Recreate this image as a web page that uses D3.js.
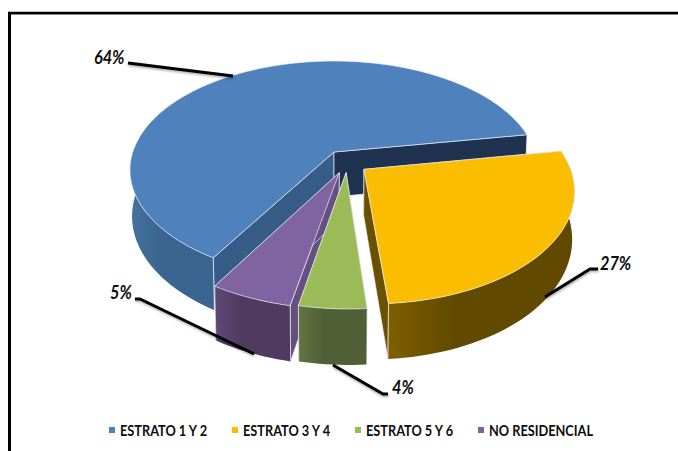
<!DOCTYPE html>
<html><head><meta charset="utf-8">
<script src="https://cdn.jsdelivr.net/npm/d3@7/dist/d3.min.js"></script>
<style>html,body{margin:0;padding:0;background:#fff}svg{display:block}text{font-family:Lato,sans-serif;fill:#0d0d0d}</style>
</head><body><svg id="c" width="678" height="451"></svg>
<script>
const categories = ["ESTRATO 1 Y 2","ESTRATO 3 Y 4","ESTRATO 5 Y 6","NO RESIDENCIAL"];
const values = [63.7,26.5,4.4,5.4];
const labels = ["64%","27%","4%","5%"];
const topColors = ["#4f81bd","#fbbd00","#9bbb59","#8064a2"];
const wallFrom = ["#44729f","#7f5f00","#627541","#5f4a78"];
const wallTo = ["#3b6591","#614a00","#505f36","#4f3a60"];
const faceColors = [["#375c87","#1f3350"],["#6b5000","#6b5000"],["#566b36","#566b36"],["#65507f","#65507f"]];
const explode = [[0,0],[0.145,0.159],[0.058,0.19],[0.025,0.19]];
const drawOrder = [0,1,3,2];
const leaders = [
 [[128,63],[233,76]],
 [[598,269],[590,269],[545,297]],
 [[388,394],[383,394],[333,365]],
 [[135,299],[140,299],[254,354]]];
const labelPos = [[94,64],[600,270],[392,394],[110,299]];
const legendX = [109,232,355,478];

const svg = d3.select("#c");
const defs = svg.append("defs");
const f = defs.append("filter").attr("id","sh").attr("x","-20%").attr("y","-50%").attr("width","140%").attr("height","220%");
f.append("feDropShadow").attr("dx",0.5).attr("dy",1.5).attr("stdDeviation",1).attr("flood-color","#000").attr("flood-opacity",0.35);

// Projection of the pie's disk (u,v) at height z to the screen
const X0=334,Y0=152,A=201.2,B=106,H=45,K=0.165;
function proj(u,v,z){const w=1-K*v;return [X0+A*u/w*(1-0.01*z),Y0+(B*v+H*z)/w];}
const line=d3.line();
const pie=d3.pie().sort(null).startAngle(3.683).endAngle(3.683+2*Math.PI);
const arcs=pie(values);

// Frame
svg.append("rect").attr("x",10).attr("y",14).attr("width",668).attr("height",1).attr("fill","#b5b5b5");
svg.append("line").attr("x1",8).attr("y1",13).attr("x2",678).attr("y2",13).attr("stroke","#000").attr("stroke-width",2.4);
svg.append("line").attr("x1",9.5).attr("y1",12).attr("x2",9.5).attr("y2",451).attr("stroke","#000").attr("stroke-width",3);

const edge="rgba(235,240,248,0.85)";
drawOrder.forEach(i=>{
  const a=arcs[i],[du,dv]=explode[i];
  const pt=(t,z)=>{const th=t-Math.PI/2;return proj(du+Math.cos(th),dv+Math.sin(th),z);};
  const n=Math.ceil((a.endAngle-a.startAngle)*90/Math.PI)+2;
  const ts=d3.range(n+1).map(k=>a.startAngle+(a.endAngle-a.startAngle)*k/n);
  const top=ts.map(t=>pt(t,0));
  // the outer wall is only the part of the rim that faces the viewer
  const front=ts.filter(t=>Math.sin(t-Math.PI/2)>-0.05);
  const wallTop=front.map(t=>pt(t,0)), wallBot=front.map(t=>pt(t,1)).reverse();
  const ap0=proj(du,dv,0), ap1=proj(du,dv,1);
  const id="w"+i;
  const xs=wallTop.concat(wallBot).map(p=>p[0]);
  const g=defs.append("linearGradient").attr("id",id).attr("gradientUnits","userSpaceOnUse")
    .attr("x1",d3.min(xs)).attr("x2",d3.max(xs)).attr("y1",0).attr("y2",0);
  g.append("stop").attr("offset",0).attr("stop-color",wallFrom[i]);
  g.append("stop").attr("offset",0.35).attr("stop-color",wallTo[i]);
  g.append("stop").attr("offset",1).attr("stop-color",wallTo[i]);
  const G=svg.append("g");
  const poly=(pts,fill,st)=>G.append("path").attr("d",line(pts)+"Z").attr("fill",fill)
     .attr("stroke",st||"none").attr("stroke-width",0.8).attr("stroke-linejoin","round");
  poly([ap0,top[0],pt(a.startAngle,1),ap1],faceColors[i][0],edge);
  poly([ap0,top[n],pt(a.endAngle,1),ap1],faceColors[i][1],edge);
  poly(wallTop.concat(wallBot),"url(#"+id+")");
  [a.startAngle,a.endAngle].filter(t=>front.includes(t)).forEach(t=>
    G.append("path").attr("d",line([pt(t,0),pt(t,1)])).attr("stroke",edge).attr("stroke-width",0.8));
  poly([ap0].concat(top),topColors[i],edge);
});

// Leader lines and data labels
leaders.forEach(p=>svg.append("path").attr("d",line(p)).attr("fill","none").attr("stroke","#000")
  .attr("stroke-width",3).attr("stroke-linejoin","round").attr("filter","url(#sh)"));
function squeeze(sel,x,y,k){ // narrow the text to the reference's condensed face
  sel.attr("transform",`translate(${x},${y}) scale(${k},1)`);
}
labels.forEach((t,i)=>{
  const s=svg.append("text").attr("font-size",18.5).attr("font-weight",700).attr("font-style","italic").text(t);
  squeeze(s,labelPos[i][0],labelPos[i][1],0.88);
});

// Legend
categories.forEach((c,i)=>{
  svg.append("rect").attr("x",legendX[i]).attr("y",427).attr("width",6).attr("height",6).attr("fill",topColors[i]);
  const s=svg.append("text").attr("font-size",14.5).attr("font-weight",700).text(c);
  squeeze(s,legendX[i]+11,436,0.88);
});
</script></body></html>
